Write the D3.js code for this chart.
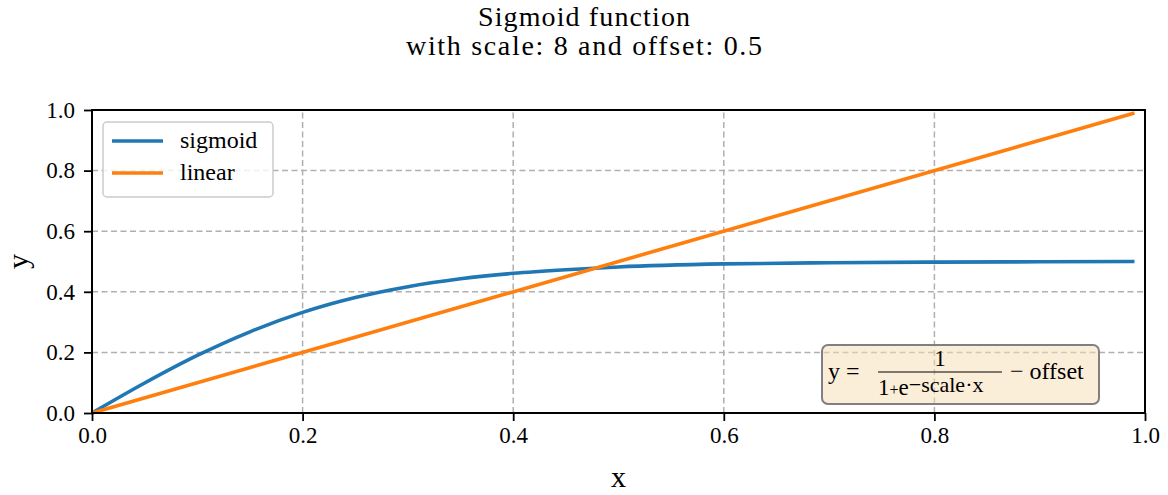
<!DOCTYPE html>
<html>
<head>
<meta charset="utf-8">
<script src="https://cdn.jsdelivr.net/npm/d3@7"></script>
<style>
  body { margin: 0; background: #fff; }
  text { font-family: "Liberation Serif", "DejaVu Serif", serif; fill: #000; }
</style>
</head>
<body>
<script>
var width = 1168,
    height = 495;

var margin = {top: 110, right: 23, bottom: 82, left: 92};

// values
var xs = [0, 0.05, 0.1, 0.15, 0.2, 0.25, 0.3, 0.35, 0.4, 0.45, 0.5, 0.6, 0.7, 0.8, 0.9, 0.99];
var sigmoidY = [0, 0.099, 0.190, 0.268, 0.332, 0.381, 0.417, 0.443, 0.461, 0.473, 0.482, 0.492, 0.496, 0.498, 0.499, 0.4998];
var linearX = [0, 0.99];
var linearY = [0, 0.99];
var xTicks = [0, 0.2, 0.4, 0.6, 0.8, 1.0];
var yTicks = [0, 0.2, 0.4, 0.6, 0.8, 1.0];
var seriesNames = ["sigmoid", "linear"];
var colors = ["#1f77b4", "#ff7f0e"];

var x = d3.scaleLinear()
    .domain([0, 1])
    .range([margin.left, width - margin.right]);

var y = d3.scaleLinear()
    .domain([0, 1])
    .range([height - margin.bottom, margin.top]);

var svg = d3.select("body").append("svg")
    .attr("width", width)
    .attr("height", height);

// title (stretched a bit to the width of the original latex font)
svg.append("text")
    .attr("x", width / 2)
    .attr("y", 26)
    .attr("text-anchor", "middle")
    .attr("textLength", 212)
    .attr("lengthAdjust", "spacing")
    .style("font-size", "28px")
    .text("Sigmoid function");
svg.append("text")
    .attr("x", width / 2)
    .attr("y", 55)
    .attr("text-anchor", "middle")
    .attr("textLength", 356)
    .attr("lengthAdjust", "spacing")
    .style("font-size", "28px")
    .text("with scale: 8 and offset: 0.5");

// grid
var grid = svg.append("g")
    .attr("stroke", "#b0b0b0")
    .attr("stroke-width", 1.5)
    .attr("stroke-dasharray", "6,3.5");
grid.selectAll(".gx")
    .data(xTicks)
  .enter().append("line")
    .attr("x1", function(d) { return x(d); })
    .attr("x2", function(d) { return x(d); })
    .attr("y1", y(0))
    .attr("y2", y(1));
grid.selectAll(".gy")
    .data(yTicks)
  .enter().append("line")
    .attr("y1", function(d) { return y(d); })
    .attr("y2", function(d) { return y(d); })
    .attr("x1", x(0))
    .attr("x2", x(1));

// lines
var line = d3.line()
    .x(function(d) { return x(d[0]); })
    .y(function(d) { return y(d[1]); });

svg.append("path")
    .datum(xs.map(function(v, i) { return [v, sigmoidY[i]]; }))
    .attr("fill", "none")
    .attr("stroke", colors[0])
    .attr("stroke-width", 3.6)
    .attr("d", line.curve(d3.curveMonotoneX));

svg.append("path")
    .datum(linearX.map(function(v, i) { return [v, linearY[i]]; }))
    .attr("fill", "none")
    .attr("stroke", colors[1])
    .attr("stroke-width", 3.6)
    .attr("d", line.curve(d3.curveLinear));

// axes
var xAxis = svg.append("g")
    .attr("transform", "translate(0," + y(0) + ")")
    .call(d3.axisBottom(x).tickValues(xTicks).tickFormat(d3.format(".1f")).tickSize(8).tickPadding(6));
var yAxis = svg.append("g")
    .attr("transform", "translate(" + x(0) + ",0)")
    .call(d3.axisLeft(y).tickValues(yTicks).tickFormat(d3.format(".1f")).tickSize(8).tickPadding(9));

[xAxis, yAxis].forEach(function(a) {
  a.select(".domain").remove();
  a.selectAll(".tick line").attr("stroke", "#000").attr("stroke-width", 1.8);
  a.selectAll(".tick text").style("font-size", "23px").style("font-family", "'Liberation Serif', serif");
});

// frame
svg.append("rect")
    .attr("x", x(0))
    .attr("y", y(1))
    .attr("width", x(1) - x(0))
    .attr("height", y(0) - y(1))
    .attr("fill", "none")
    .attr("stroke", "#000")
    .attr("stroke-width", 2);

// axis labels
svg.append("text")
    .attr("x", (x(0) + x(1)) / 2)
    .attr("y", 487)
    .attr("text-anchor", "middle")
    .style("font-size", "30px")
    .text("x");
svg.append("text")
    .attr("transform", "translate(28," + y(0.5) + ") rotate(-90)")
    .attr("text-anchor", "middle")
    .style("font-size", "30px")
    .text("y");

// legend
var legend = svg.append("g")
    .attr("transform", "translate(103,122)");
legend.append("rect")
    .attr("width", 170)
    .attr("height", 75)
    .attr("rx", 4)
    .attr("fill", "#fff")
    .attr("fill-opacity", 0.8)
    .attr("stroke", "#cccccc")
    .attr("stroke-width", 1.5);
seriesNames.forEach(function(name, i) {
  var ly = 19 + i * 32;
  legend.append("line")
      .attr("x1", 9)
      .attr("x2", 60)
      .attr("y1", ly)
      .attr("y2", ly)
      .attr("stroke", colors[i])
      .attr("stroke-width", 3.6);
  legend.append("text")
      .attr("x", 77)
      .attr("y", ly + 7)
      .style("font-size", "24px")
      .text(name);
});

// formula box
var box = svg.append("g")
    .attr("transform", "translate(822,345)");
box.append("rect")
    .attr("width", 277)
    .attr("height", 59)
    .attr("rx", 6)
    .attr("fill", "#f5deb3")
    .attr("fill-opacity", 0.5)
    .attr("stroke", "#808080")
    .attr("stroke-width", 2);
box.append("text")
    .attr("x", 6)
    .attr("y", 34)
    .style("font-size", "24px")
    .text("y =");
box.append("text")
    .attr("x", 118)
    .attr("y", 21)
    .attr("text-anchor", "middle")
    .style("font-size", "23px")
    .text("1");
box.append("line")
    .attr("x1", 56)
    .attr("x2", 180)
    .attr("y1", 27)
    .attr("y2", 27)
    .attr("stroke", "#000")
    .attr("stroke-width", 1.2);
var den = box.append("text")
    .attr("x", 56)
    .attr("y", 50)
    .style("font-size", "23px");
den.append("tspan").text("1");
den.append("tspan").style("font-size", "16px").text("+");
den.append("tspan").text("e");
den.append("tspan").attr("dy", -3).style("font-size", "22px").text("\u2212scale\u00b7x");
box.append("text")
    .attr("x", 188)
    .attr("y", 34)
    .style("font-size", "24px")
    .text("\u2212 offset");
</script>
</body>
</html>
